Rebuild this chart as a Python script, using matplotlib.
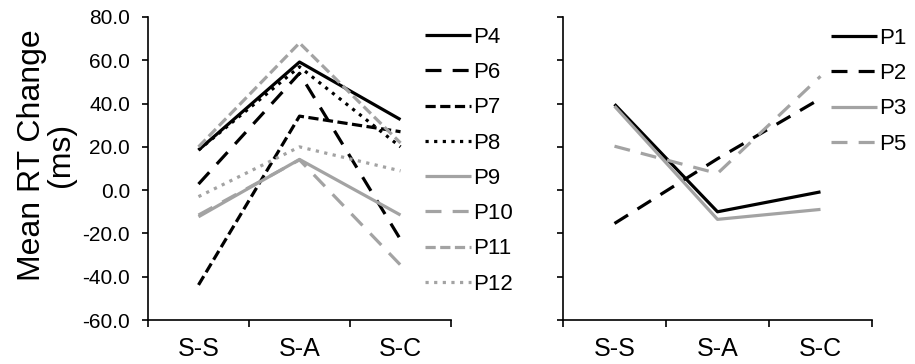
import matplotlib
matplotlib.use("Agg")
import matplotlib.pyplot as plt

plt.rcParams['font.family'] = ['Liberation Sans', 'DejaVu Sans']

categories = ['S-S', 'S-A', 'S-C']

# left panel
left_names = ['P4', 'P6', 'P7', 'P8', 'P9', 'P10', 'P11', 'P12']
p4 = [18.5, 59.2, 32.6]
p6 = [2.8, 54.0, -22.8]
p7 = [-43.8, 34.2, 27.0]
p8 = [18.5, 57.0, 20.0]
p9 = [-12.3, 14.2, -11.5]
p10 = [-11.5, 14.0, -34.6]
p11 = [20.0, 68.0, 21.8]
p12 = [-3.0, 20.0, 8.9]

# right panel
right_names = ['P1', 'P2', 'P3', 'P5']
p1 = [39.7, -10.0, -0.8]
p2 = [-15.4, 14.5, 42.3]
p3 = [38.8, -13.5, -8.9]
p5 = [20.3, 7.7, 52.6]

black = 'black'
gray = '#a3a3a3'
solid = (0, ())
long_dash = (0, (5, 3.5))
short_dash = (0, (3.2, 1.4))
dotted = (0, (1, 1.7))

left_series = [p4, p6, p7, p8, p9, p10, p11, p12]
left_styles = [(black, solid), (black, long_dash), (black, short_dash), (black, dotted),
               (gray, solid), (gray, long_dash), (gray, short_dash), (gray, dotted)]
right_series = [p1, p2, p3, p5]
right_styles = [(black, solid), (black, long_dash), (gray, solid), (gray, long_dash)]

fig = plt.figure(figsize=(9.15, 3.64), dpi=100)
ax1 = fig.add_axes([148 / 915, 1 - 320 / 364, 303 / 915, 303 / 364])
ax2 = fig.add_axes([563 / 915, 1 - 320 / 364, 309 / 915, 303 / 364])

x = range(len(categories))


def style_axis(ax, show_labels):
    ax.set_xlim(-0.5, 2.5)
    ax.set_ylim(-60, 80)
    ax.set_yticks(range(-60, 81, 20))
    if show_labels:
        ax.set_yticklabels([f"{v:.1f}" for v in range(-60, 81, 20)])
    else:
        ax.set_yticklabels([])
    ax.set_xticks(list(x))
    ax.set_xticklabels(categories)
    ax.set_xticks([-0.5, 0.5, 1.5, 2.5], minor=True)
    ax.tick_params(axis='x', which='major', length=0, labelsize=18, pad=12)
    ax.tick_params(axis='x', which='minor', length=5, width=1.2, direction='out')
    ax.tick_params(axis='y', length=4, width=1.2, direction='out', labelsize=15, pad=9)
    for s in ['top', 'right']:
        ax.spines[s].set_visible(False)
    for s in ['left', 'bottom']:
        ax.spines[s].set_linewidth(1.2)


handles = []
for vals, (c, ls) in zip(left_series, left_styles):
    h, = ax1.plot(x, vals, color=c, linestyle=ls, linewidth=2.3)
    handles.append(h)
style_axis(ax1, True)
ax1.set_ylabel('Mean RT Change\n(ms)', fontsize=23, linespacing=0.95)
ax1.yaxis.set_label_coords(-0.237, 0.545)
ax1.legend(handles, left_names, loc='upper left', bbox_to_anchor=(425 / 915, 1 - 27 / 364),
           bbox_transform=fig.transFigure, frameon=False, fontsize=16, handlelength=2.05,
           handletextpad=0.1, labelspacing=0.64, borderaxespad=0, borderpad=0)

handles = []
for vals, (c, ls) in zip(right_series, right_styles):
    h, = ax2.plot(x, vals, color=c, linestyle=ls, linewidth=2.3)
    handles.append(h)
style_axis(ax2, False)
ax2.legend(handles, right_names, loc='upper left', bbox_to_anchor=(831 / 915, 1 - 28 / 364),
           bbox_transform=fig.transFigure, frameon=False, fontsize=16, handlelength=2.05,
           handletextpad=0.1, labelspacing=0.64, borderaxespad=0, borderpad=0)

fig.savefig('out.png', dpi=100)
